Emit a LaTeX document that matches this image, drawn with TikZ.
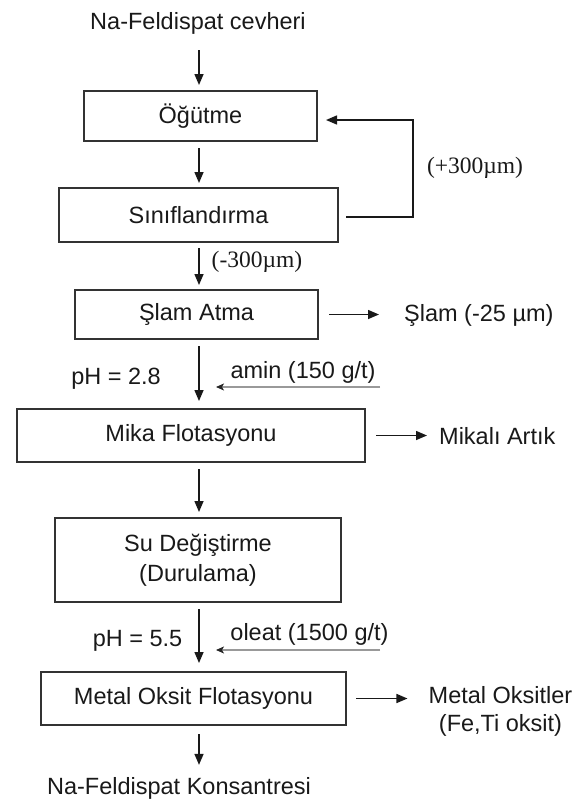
\documentclass[tikz,border=0pt]{standalone}
\usepackage{fontspec}
\setmainfont{Liberation Sans}
\newfontfamily\serifl{Liberation Serif}
\usetikzlibrary{arrows.meta}
\begin{document}
\begin{tikzpicture}[x=1pt,y=-1pt,
  every node/.style={inner sep=0pt,text=black!90,font=\fontsize{23.5}{28}\selectfont},
  box/.style 2 args={draw=black!80,line width=2pt,minimum width=#1,minimum height=#2,align=center,fill=white},
  txt/.style={align=center},
  sertxt/.style={font=\serifl\fontsize{23.5}{28}\selectfont},
  arr/.style={draw=black!90,line width=1.5pt,-{Triangle[length=11pt,width=9pt]}},
  reag/.style={draw=black!40,line width=1.1pt,-{Stealth[length=8pt,width=7pt,inset=2pt,black!85]}}]
\useasboundingbox (0,0) rectangle (583,803);
\coordinate (axis) at (199,0);
\coordinate (fb) at (413,0);

% texts
\node[txt] (feed) at (198,23) {Na-Feldispat cevheri};
\node[txt] (kons) at (179,788) {Na-Feldispat Konsantresi};

% boxes
\node[box={233}{50}] (ogut) at (200.5,116) {Öğütme};
\node[box={279}{54}] (sinif) at (198.5,215) {Sınıflandırma};
\node[box={243}{49}] (slam) at (196.5,314.5) {Şlam Atma};
\node[box={348}{53}] (mika) at (191,435.5) {Mika Flotasyonu};
\node[box={286}{84},font=\fontsize{23.5}{30}\selectfont] (su) at (198,560) {Su Değiştirme\\(Durulama)};
\node[box={305}{53}] (metal) at (193.5,698.5) {Metal Oksit Flotasyonu};

% side outputs
\node[txt,anchor=west] (slamout) at (404,315) {Şlam (-25 µm)};
\node[txt,anchor=west] (mikaout) at (439,436) {Mikalı Artık};
\node[txt] (metout) at (500.5,711) {Metal Oksitler\\(Fe,Ti oksit)};

% labels
\node[sertxt] (plus) at (475,168) {(+300µm)};
\node[sertxt] (minus) at (257,262) {(-300µm)};
\node[txt] (ph1) at (116,379) {pH = 2.8};
\node[txt] (ph2) at (137.5,641) {pH = 5.5};
\node[txt] (amin) at (303,372) {amin (150 g/t)};
\node[txt] (oleat) at (309.5,634) {oleat (1500 g/t)};
\coordinate (aminR) at (380,387);
\coordinate (oleatR) at (380,650);

% main flow
\draw[arr,shorten <=16pt,shorten >=5pt] (feed.south -| axis) -- (ogut.north -| axis);
\draw[arr,shorten <=6pt,shorten >=4pt] (ogut.south -| axis) -- (sinif.north -| axis);
\draw[arr,shorten <=5pt,shorten >=4pt] (sinif.south -| axis) -- (slam.north -| axis);
\draw[arr,shorten <=6pt,shorten >=7pt] (slam.south -| axis) -- (mika.north -| axis);
\draw[arr,shorten <=6pt,shorten >=5pt] (mika.south -| axis) -- (su.north -| axis);
\draw[arr,shorten <=6pt,shorten >=8pt] (su.south -| axis) -- (metal.north -| axis);
\draw[arr,shorten <=8pt,shorten >=12pt] (metal.south -| axis) -- (kons.north -| axis);

% recycle
\draw[arr,shorten <=7pt,shorten >=8pt] ([yshift=-2pt]sinif.east) -| ([yshift=-4pt]fb |- ogut.east) -- ([yshift=-4pt]ogut.east);

% side arrows
\draw[arr,shorten <=10pt,shorten >=25pt] (slam.east) -- (slam.east -| slamout.west);
\draw[arr,shorten <=10pt,shorten >=12pt] (mika.east) -- (mika.east -| mikaout.west);
\draw[arr,shorten <=9pt,shorten >=21pt] (metal.east) -- (metal.east -| metout.west);

% reagents
\draw[reag,shorten >=17pt] (aminR) -- (aminR -| axis);
\draw[reag,shorten >=17pt] (oleatR) -- (oleatR -| axis);
\end{tikzpicture}
\end{document}
